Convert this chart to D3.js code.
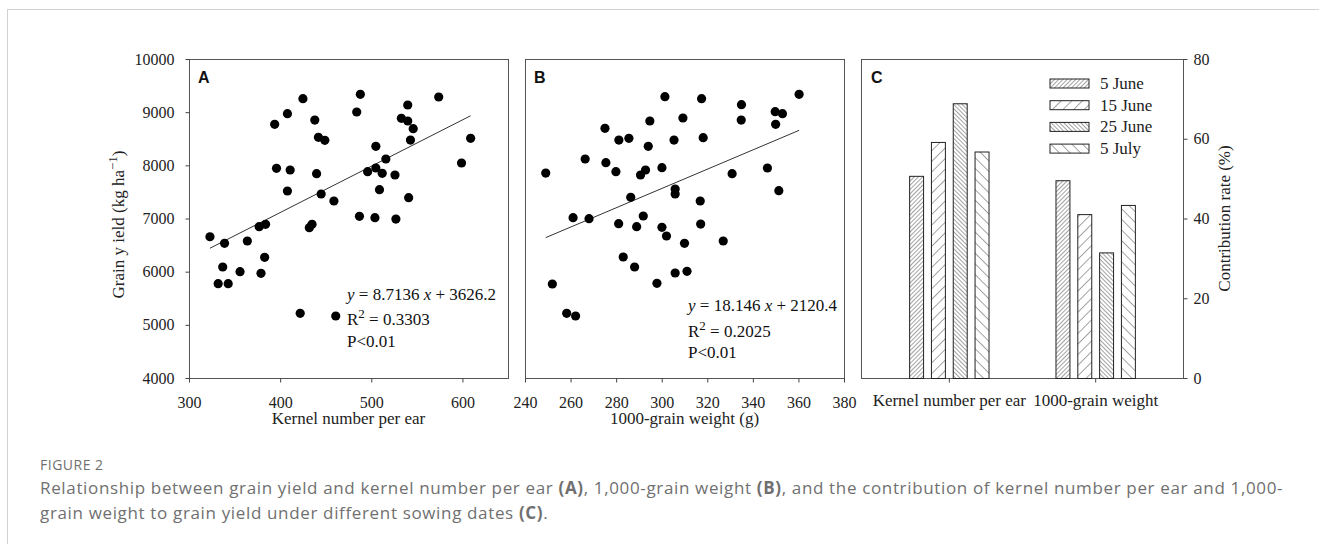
<!DOCTYPE html>
<html>
<head>
<meta charset="utf-8">
<script src="https://cdn.jsdelivr.net/npm/d3@7"></script>
<style>
  body { margin: 0; background: #fff; }
  svg text { font-family: "Liberation Serif", "Times New Roman", serif; fill: #222; }
  .axis path, .axis line { stroke: #444; }
  .axis text { font-size: 16px; font-family: "Liberation Serif", serif; fill: #222; }
  .plabel { font-family: "Liberation Sans", Arial, sans-serif !important; font-weight: bold; font-size: 16px; fill: #111 !important; }
  .cap { font-family: "Open Sans", sans-serif !important; fill: #707070 !important; }
</style>
</head>
<body>
<script>
// panel A: kernel number per ear vs grain yield
var kernelNumber = [323, 339, 364, 377, 384, 337, 356, 332, 343, 379, 383, 432, 435, 422, 461, 459,
  487, 504, 527, 541, 425, 408, 394, 438, 442, 449, 396, 411, 440, 408, 445, 488,
  484, 505, 516, 496, 505, 512, 526, 509, 540, 533, 540, 546, 543, 574, 609, 599];
var yieldA = [6657, 6533, 6577, 6846, 6890, 6088, 6000, 5774, 5774, 5969, 6270, 6827, 6890, 5217, 5166, 7329,
  7041, 7015, 6990, 7391, 9253, 8971, 8771, 8852, 8527, 8470, 7944, 7912, 7843, 7517, 7461, 9336,
  9003, 8357, 8119, 7880, 7950, 7850, 7818, 7542, 9135, 8884, 8834, 8689, 8476, 9285, 8508, 8044];

// panel B: 1000-grain weight vs grain yield
var grainWeight = [249.1, 266.4, 261.1, 268.1, 275.1, 275.5, 279.9, 281.2, 285.6, 286.4, 281.1, 289.0,
  291.9, 290.7, 292.9, 294.1, 294.8, 300.1, 301.4, 300.1, 302.1, 305.4, 305.9, 305.9,
  309.3, 316.9, 317.1, 317.5, 318.2, 330.9, 335.0, 334.9, 346.4, 349.8, 353.0, 350.0,
  351.4, 360.3, 310.0, 327.0, 283.1, 288.1, 305.9, 311.1, 297.9, 252.0, 258.3, 262.2];
var yieldB = [7855, 8119, 7015, 6996, 8696, 8050, 7880, 8476, 8508, 7398, 6903, 6846,
  7047, 7818, 7912, 8357, 8834, 7956, 9291, 6834, 6671, 8476, 7555, 7461,
  8890, 7329, 6896, 9253, 8520, 7843, 9141, 8852, 7950, 9009, 8971, 8771,
  7523, 9336, 6533, 6577, 6276, 6088, 5975, 6006, 5781, 5768, 5217, 5166];

// regression coefficients printed on the panels
var fitA = {slope: 8.7136, intercept: 3626.2, r2: "0.3303"};
var fitB = {slope: 18.146, intercept: 2120.4, r2: "0.2025"};

// panel C: contribution rate (%)
var traits = ["Kernel number per ear", "1000-grain weight"];
var sowingDates = ["5 June", "15 June", "25 June", "5 July"];
var contribKernel = [50.7, 59.2, 68.9, 56.8];
var contribWeight = [49.6, 41.1, 31.5, 43.4];

var yTicksA = [4000, 5000, 6000, 7000, 8000, 9000, 10000];
var xTicksA = [300, 400, 500, 600];
var xTicksB = [240, 260, 280, 300, 320, 340, 360, 380];
var yTicksC = [0, 20, 40, 60, 80];

var top_ = 59, bottom = 378;

var svg = d3.select("body").append("svg")
    .attr("width", 1319)
    .attr("height", 544);

// page frame
svg.append("rect")
    .attr("x", 7.5).attr("y", 9.5)
    .attr("width", 1330).attr("height", 560)
    .attr("fill", "none").attr("stroke", "#d2d2d2");

// hatch patterns
var defs = svg.append("defs");
var hatch = [
  {id: "h0", gap: 3, angle: 45},
  {id: "h1", gap: 7.5, angle: 45},
  {id: "h2", gap: 3, angle: -45},
  {id: "h3", gap: 7.5, angle: -45}
];
hatch.forEach(function(h) {
  var p = defs.append("pattern")
      .attr("id", h.id)
      .attr("patternUnits", "userSpaceOnUse")
      .attr("width", h.gap).attr("height", h.gap)
      .attr("patternTransform", "rotate(" + h.angle + ")");
  p.append("rect").attr("width", h.gap).attr("height", h.gap).attr("fill", "#fff");
  p.append("line")
      .attr("x1", 0).attr("y1", 0).attr("x2", 0).attr("y2", h.gap)
      .attr("stroke", "#333").attr("stroke-width", 0.9);
});

var yScale = d3.scaleLinear().domain([4000, 10000]).range([bottom, top_]);

function scatterPanel(x0, x1, xDomain, xTicks, xs, ys, fit, label, xTitle, annX, annY, showY) {
  var xScale = d3.scaleLinear().domain(xDomain).range([x0, x1]);
  var g = svg.append("g");

  g.append("rect")
      .attr("x", x0 + 0.5).attr("y", top_ + 0.5)
      .attr("width", x1 - x0).attr("height", bottom - top_)
      .attr("fill", "none").attr("stroke", "#555");

  g.append("g")
      .attr("class", "axis")
      .attr("transform", "translate(0," + (bottom + 0.5) + ")")
      .call(d3.axisBottom(xScale).tickValues(xTicks).tickSize(4).tickPadding(14).tickSizeOuter(0))
      .select(".domain").remove();

  if (showY) {
    g.append("g")
        .attr("class", "axis")
        .attr("transform", "translate(" + (x0 + 0.5) + ",0)")
        .call(d3.axisLeft(yScale).tickValues(yTicksA).tickFormat(d3.format("d"))
          .tickSize(4).tickPadding(11).tickSizeOuter(0))
        .select(".domain").remove();
  }

  var ext = d3.extent(xs);
  g.append("line")
      .attr("x1", xScale(ext[0])).attr("y1", yScale(fit.slope * ext[0] + fit.intercept))
      .attr("x2", xScale(ext[1])).attr("y2", yScale(fit.slope * ext[1] + fit.intercept))
      .attr("stroke", "#333").attr("stroke-width", 1);

  g.selectAll("circle")
      .data(xs)
      .enter().append("circle")
      .attr("cx", function(d) { return xScale(d); })
      .attr("cy", function(d, i) { return yScale(ys[i]); })
      .attr("r", 4.6)
      .attr("fill", "#000");

  g.append("text").attr("class", "plabel")
      .attr("x", x0 + 9).attr("y", 83).text(label);

  var t = g.append("text").attr("x", annX).attr("y", annY[0]).style("font-size", "17px").style("fill", "#111");
  t.append("tspan").style("font-style", "italic").text("y");
  t.append("tspan").text(" = " + fit.slope + " ");
  t.append("tspan").style("font-style", "italic").text("x");
  t.append("tspan").text(" + " + fit.intercept.toFixed(1));

  var r = g.append("text").attr("x", annX).attr("y", annY[1]).style("font-size", "17px").style("fill", "#111");
  r.append("tspan").text("R");
  r.append("tspan").attr("dy", -7).style("font-size", "13px").text("2");
  r.append("tspan").attr("dy", 7).text(" = " + fit.r2);

  g.append("text").attr("x", annX).attr("y", annY[2]).style("font-size", "17px").style("fill", "#111")
      .text("P<0.01");

  g.append("text")
      .attr("x", (x0 + x1) / 2).attr("y", 424)
      .attr("text-anchor", "middle").style("font-size", "17px")
      .text(xTitle);
}

scatterPanel(189, 508, [300, 650], xTicksA, kernelNumber, yieldA, fitA, "A",
  "Kernel number per ear", 347, [300, 325, 347], true);
scatterPanel(525, 844, [240, 380], xTicksB, grainWeight, yieldB, fitB, "B",
  "1000-grain weight (g)", 688, [311, 337, 358], false);

// y title for A
var yt = svg.append("text")
    .attr("transform", "translate(124," + ((top_ + bottom) / 2 + 6) + ") rotate(-90)")
    .attr("text-anchor", "middle").style("font-size", "17px");
yt.append("tspan").text("Grain y ield (kg ha");
yt.append("tspan").attr("dy", -7).style("font-size", "13px").text("\u22121");
yt.append("tspan").attr("dy", 7).text(")");

// panel C
var cx0 = 861, cx1 = 1183;
var xC = d3.scalePoint().domain(traits).range([cx0, cx1]).padding(0.6);
var xInner = d3.scaleBand().domain(sowingDates).range([-39.7, 39.7]).paddingInner(0.36);
var yC = d3.scaleLinear().domain([0, 80]).range([bottom, top_]);

var gc = svg.append("g");
gc.append("rect")
    .attr("x", cx0 + 0.5).attr("y", top_ + 0.5)
    .attr("width", cx1 - cx0).attr("height", bottom - top_)
    .attr("fill", "none").attr("stroke", "#555");

gc.append("g")
    .attr("class", "axis")
    .attr("transform", "translate(" + (cx1 + 0.5) + ",0)")
    .call(d3.axisRight(yC).tickValues(yTicksC).tickSize(4).tickPadding(6).tickSizeOuter(0))
    .select(".domain").remove();

var xAxisC = gc.append("g")
    .attr("class", "axis")
    .attr("transform", "translate(0," + (bottom + 0.5) + ")")
    .call(d3.axisBottom(xC).tickSize(4).tickPadding(11).tickSizeOuter(0));
xAxisC.select(".domain").remove();
xAxisC.selectAll("text").style("font-size", "17px");

var contrib = [contribKernel, contribWeight];
traits.forEach(function(tr, k) {
  gc.selectAll(".bar" + k)
      .data(contrib[k])
      .enter().append("rect")
      .attr("x", function(d, i) { return xC(tr) + xInner(sowingDates[i]) + 0.5; })
      .attr("y", function(d) { return yC(d) + 0.5; })
      .attr("width", xInner.bandwidth())
      .attr("height", function(d) { return bottom - yC(d); })
      .attr("fill", function(d, i) { return "url(#h" + i + ")"; })
      .attr("stroke", "#222").attr("stroke-width", 1);
});

gc.append("text").attr("class", "plabel").attr("x", cx0 + 10).attr("y", 83).text("C");

var leg = gc.selectAll(".leg").data(sowingDates).enter().append("g")
    .attr("transform", function(d, i) { return "translate(1050," + (79 + i * 21.7) + ")"; });
leg.append("rect")
    .attr("width", 39).attr("height", 9)
    .attr("fill", function(d, i) { return "url(#h" + i + ")"; })
    .attr("stroke", "#222");
leg.append("text").attr("x", 50).attr("y", 10).style("font-size", "17px").text(function(d) { return d; });

svg.append("text")
    .attr("transform", "translate(1230," + ((top_ + bottom) / 2) + ") rotate(-90)")
    .attr("text-anchor", "middle").style("font-size", "17px")
    .text("Contribution rate (%)");

// caption
svg.append("text").attr("class", "cap")
    .attr("x", 40).attr("y", 470).style("font-size", "14px").style("letter-spacing", "0.5px")
    .text("FIGURE 2");
var c1 = svg.append("text").attr("class", "cap").attr("x", 40).attr("y", 494)
    .style("font-size", "17px").style("letter-spacing", "0.65px");
c1.append("tspan").text("Relationship between grain yield and kernel number per ear ");
c1.append("tspan").style("font-weight", "bold").text("(A)");
c1.append("tspan").text(", 1,000-grain weight ");
c1.append("tspan").style("font-weight", "bold").text("(B)");
c1.append("tspan").text(", and the contribution of kernel number per ear and 1,000-");
var c2 = svg.append("text").attr("class", "cap").attr("x", 40).attr("y", 519)
    .style("font-size", "17px").style("letter-spacing", "0.65px");
c2.append("tspan").text("grain weight to grain yield under different sowing dates ");
c2.append("tspan").style("font-weight", "bold").text("(C)");
c2.append("tspan").text(".");
</script>
</body>
</html>
